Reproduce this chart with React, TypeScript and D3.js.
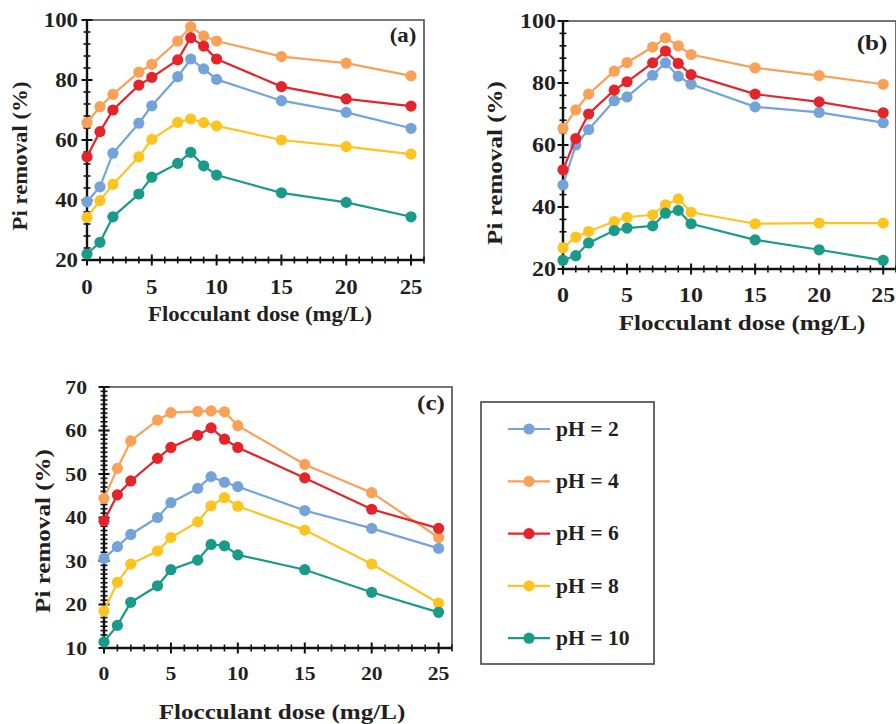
import React from "react";
import * as d3 from "d3";

// ---------- data ----------
const doses = [0, 1, 2, 4, 5, 7, 8, 9, 10, 15, 20, 25];
const seriesNames = ["pH = 2", "pH = 4", "pH = 6", "pH = 8", "pH = 10"];
const seriesColors = ["#74a3da", "#f8a157", "#e4242b", "#fdc421", "#1a9a88"];

// panel (a)
const aPH2 = [39.4, 44.4, 55.6, 65.6, 71.4, 81.1, 87.0, 83.7, 80.2, 73.1, 69.2, 63.9];
const aPH4 = [65.8, 71.1, 75.2, 82.6, 85.2, 93.0, 97.8, 94.7, 93.0, 87.8, 85.6, 81.4];
const aPH6 = [54.4, 62.8, 70.0, 78.3, 80.9, 86.7, 94.1, 91.3, 87.0, 77.8, 73.7, 71.3];
const aPH8 = [34.2, 39.8, 45.2, 54.4, 60.2, 65.9, 67.0, 65.8, 64.7, 60.0, 57.8, 55.3];
const aPH10 = [22.0, 25.9, 34.4, 42.0, 47.6, 52.2, 55.9, 51.4, 48.3, 42.4, 39.2, 34.4];

// panel (b)
const bPH2 = [47.1, 60.0, 65.0, 74.3, 75.5, 82.5, 86.5, 82.2, 79.6, 72.3, 70.5, 67.2];
const bPH4 = [65.4, 71.3, 76.4, 83.8, 86.6, 91.6, 94.6, 92.0, 89.2, 84.9, 82.4, 79.6];
const bPH6 = [52.0, 62.1, 70.0, 77.7, 80.4, 86.5, 90.3, 86.3, 82.7, 76.4, 73.9, 70.4];
const bPH8 = [26.8, 30.3, 32.1, 35.3, 36.7, 37.5, 40.7, 42.6, 38.3, 34.6, 34.8, 34.8];
const bPH10 = [22.8, 24.3, 28.4, 32.4, 33.2, 33.9, 38.0, 38.9, 34.6, 29.4, 26.2, 22.8];

// panel (c)
const cPH2 = [30.6, 33.3, 36.1, 40.0, 43.4, 46.7, 49.4, 48.1, 47.1, 41.6, 37.5, 32.9];
const cPH4 = [44.4, 51.3, 57.6, 62.4, 64.1, 64.4, 64.5, 64.3, 61.1, 52.2, 45.7, 35.4];
const cPH6 = [39.2, 45.2, 48.4, 53.6, 56.1, 58.9, 60.6, 58.0, 56.1, 49.1, 41.9, 37.5];
const cPH8 = [18.5, 25.1, 29.3, 32.3, 35.4, 39.0, 42.7, 44.6, 42.6, 37.1, 29.3, 20.3];
const cPH10 = [11.4, 15.2, 20.5, 24.3, 28.0, 30.2, 33.8, 33.5, 31.4, 28.0, 22.8, 18.2];

const xTicks = [0, 5, 10, 15, 20, 25];
const yTicksAB = [20, 40, 60, 80, 100];
const yTicksC = [10, 20, 30, 40, 50, 60, 70];

const xTitle = "Flocculant dose (mg/L)";
const yTitle = "Pi removal (%)";

const FONT = "'Liberation Serif', 'Times New Roman', serif";
const SX = 1.14;

type PanelProps = {
  series: number[][];
  left: number;
  right: number;
  top: number;
  bottom: number;
  xMax: number;
  yDomain: [number, number];
  yTicks: number[];
  yMinorStep: number;
  tag: string;
  tagPos: [number, number];
  tickFont: number;
  titleFont: number;
  xTitlePos: [number, number];
  yTitlePos: [number, number];
  xLabelDy: number;
  yLabelDx: number;
};

function T({ x, y, size, anchor = "middle", rotate = 0, children, sx = SX }: any) {
  return (
    <text
      transform={`translate(${x},${y}) rotate(${rotate}) scale(${sx},1)`}
      textAnchor={anchor}
      dominantBaseline="central"
      fontFamily={FONT}
      fontWeight="bold"
      fontSize={size}
      fill="#231f20"
    >
      {children}
    </text>
  );
}

function Panel(p: PanelProps) {
  const x = d3.scaleLinear().domain([0, p.xMax]).range([p.left, p.right]);
  const y = d3.scaleLinear().domain(p.yDomain).range([p.bottom, p.top]);
  const line = d3
    .line<number>()
    .x((_, i) => x(doses[i]))
    .y((v) => y(v));
  const xMinor = d3.range(0, Math.floor(p.xMax) + 1, 1);
  const yMinor = d3.range(p.yDomain[0], p.yDomain[1] + 0.001, p.yMinorStep);
  const x0 = x(0);
  const y0 = y(p.yDomain[0]);
  return (
    <g>
      {/* frame top/right */}
      <path
        d={`M${x0},${y(p.yDomain[1])}H${x(p.xMax)}V${y0}`}
        fill="none"
        stroke="#4a4a4a"
        strokeWidth={1.6}
      />
      {/* axes */}
      <line x1={x0} x2={x(p.xMax)} y1={y0} y2={y0} stroke="#111" strokeWidth={2.4} />
      <line x1={x0} x2={x0} y1={y0} y2={y(p.yDomain[1])} stroke="#111" strokeWidth={2.4} />
      {xMinor.map((t) => {
        const major = t % 5 === 0;
        const h = major ? 5.5 : 3.5;
        return (
          <line key={"xm" + t} x1={x(t)} x2={x(t)} y1={y0 - h} y2={y0 + h} stroke="#111" strokeWidth={major ? 2 : 1.6} />
        );
      })}
      {yMinor.map((t) => {
        const major = p.yTicks.some((v) => Math.abs(v - t) < 1e-6);
        const h = major ? 5.5 : 3.5;
        return (
          <line key={"ym" + t} x1={x0 - h} x2={x0 + h} y1={y(t)} y2={y(t)} stroke="#111" strokeWidth={major ? 2 : 1.6} />
        );
      })}
      {xTicks.map((t) => (
        <T key={"xl" + t} x={x(t)} y={y0 + p.xLabelDy} size={p.tickFont}>
          {t}
        </T>
      ))}
      {p.yTicks.map((t) => (
        <T key={"yl" + t} x={x0 - p.yLabelDx} y={y(t)} size={p.tickFont} anchor="end">
          {t}
        </T>
      ))}
      {p.series.map((s, i) => (
        <g key={"s" + i}>
          <path d={line(s) || ""} fill="none" stroke={seriesColors[i]} strokeWidth={2.2} />
          {s.map((v, j) => (
            <circle key={j} cx={x(doses[j])} cy={y(v)} r={5.6} fill={seriesColors[i]} />
          ))}
        </g>
      ))}
      <T x={p.tagPos[0]} y={p.tagPos[1]} size={p.titleFont}>
        {p.tag}
      </T>
      <T x={p.xTitlePos[0]} y={p.xTitlePos[1]} size={p.titleFont}>
        {xTitle}
      </T>
      <T x={p.yTitlePos[0]} y={p.yTitlePos[1]} size={p.titleFont} rotate={-90}>
        {yTitle}
      </T>
    </g>
  );
}

function Legend() {
  const top = 429;
  const step = 52.3;
  return (
    <g>
      <rect x={481} y={402} width={173} height={262} fill="white" stroke="#444" strokeWidth={1.6} />
      {seriesNames.map((n, i) => {
        const yy = top + i * step;
        return (
          <g key={n}>
            <line x1={508} x2={550} y1={yy} y2={yy} stroke={seriesColors[i]} strokeWidth={2.2} />
            <circle cx={529} cy={yy} r={5.6} fill={seriesColors[i]} />
            <T x={556} y={yy} size={20} anchor="start" sx={1.08}>
              {n}
            </T>
          </g>
        );
      })}
    </g>
  );
}

export default function App() {
  return (
    <svg
      width={896}
      height={724}
      style={{ position: "absolute", left: 0, top: 0, background: "white" }}
    >
      <rect width={896} height={724} fill="white" />
      <Panel
        series={[aPH2, aPH4, aPH6, aPH8, aPH10]}
        left={87}
        right={424}
        top={20}
        bottom={260}
        xMax={26}
        yDomain={[20, 100]}
        yTicks={yTicksAB}
        yMinorStep={4}
        tag="(a)"
        tagPos={[403, 35]}
        tickFont={20}
        titleFont={20}
        xTitlePos={[260, 314]}
        yTitlePos={[20, 156]}
        xLabelDy={27}
        yLabelDx={9}
      />
      <Panel
        series={[bPH2, bPH4, bPH6, bPH8, bPH10]}
        left={563}
        right={896}
        top={21}
        bottom={269}
        xMax={26}
        yDomain={[20, 100]}
        yTicks={yTicksAB}
        yMinorStep={4}
        tag="(b)"
        tagPos={[872, 43]}
        tickFont={21}
        titleFont={22}
        xTitlePos={[742, 323]}
        yTitlePos={[495, 163]}
        xLabelDy={26}
        yLabelDx={7}
      />
      <Panel
        series={[cPH2, cPH4, cPH6, cPH8, cPH10]}
        left={104}
        right={452}
        top={387}
        bottom={648}
        xMax={26}
        yDomain={[10, 70]}
        yTicks={yTicksC}
        yMinorStep={1}
        tag="(c)"
        tagPos={[431, 403]}
        tickFont={19}
        titleFont={22}
        xTitlePos={[282, 712]}
        yTitlePos={[43, 531]}
        xLabelDy={25}
        yLabelDx={17}
      />
      <Legend />
    </svg>
  );
}
